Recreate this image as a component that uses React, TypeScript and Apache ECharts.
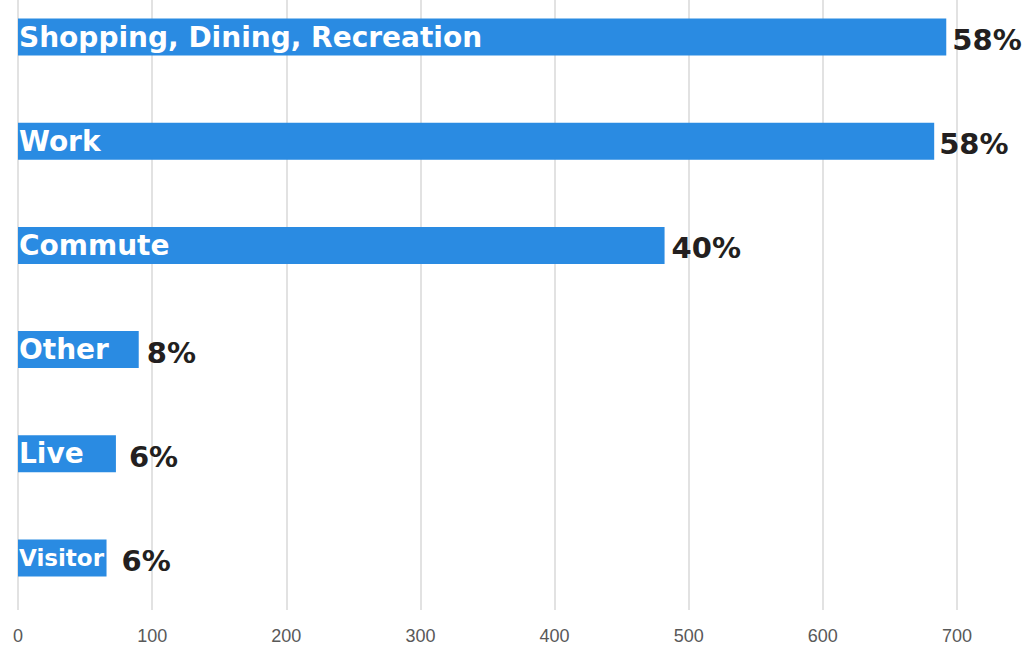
import React, { useEffect, useRef } from "react";
import * as echarts from "echarts";

const categories = ["Shopping, Dining, Recreation", "Work", "Commute", "Other", "Live", "Visitor"];
const counts = [692, 683, 482, 90, 73, 66];
const percents = ["58%", "58%", "40%", "8%", "6%", "6%"];
const xTicks = [0, 100, 200, 300, 400, 500, 600, 700];

// label styling tweaks (not data)
const pctShift = [1, 0, 2, 3, 8, 10];
const nameFont = [28, 28, 28, 28, 28, 23];

export default function App() {
  const ref = useRef<HTMLDivElement>(null);
  useEffect(() => {
    document.body.style.margin = "0";
    const chart = echarts.init(ref.current!, undefined, { renderer: "svg" });
    chart.setOption({
      animation: false,
      backgroundColor: "#ffffff",
      grid: { left: 18, right: 65, top: 0, bottom: 37, containLabel: false },
      xAxis: {
        type: "value",
        min: xTicks[0],
        max: xTicks[xTicks.length - 1],
        interval: 100,
        axisLine: { show: false },
        axisTick: { show: false },
        splitLine: { show: true, lineStyle: { color: "#d9d9d9", width: 1.5 } },
        axisLabel: { color: "#595959", fontSize: 18, fontFamily: "Liberation Sans Narrow, Liberation Sans, sans-serif", margin: 17 },
      },
      yAxis: {
        type: "category",
        data: categories,
        inverse: true,
        axisLine: { show: false },
        axisTick: { show: false },
        axisLabel: { show: false },
        splitLine: { show: false },
      },
      series: [
        {
          type: "bar",
          data: counts.map((v, i) => ({
            value: v,
            label: { fontSize: nameFont[i] },
          })),
          barWidth: 37,
          itemStyle: { color: "#2a8be2" },
          label: {
            show: true,
            position: "insideLeft",
            distance: 1,
            color: "#ffffff",
            fontWeight: "bold",
            fontSize: 28,
            fontFamily: "DejaVu Sans, sans-serif",
            formatter: (p: any) => categories[p.dataIndex],
          },
        },
        {
          type: "bar",
          data: counts.map((v, i) => ({
            value: v,
            label: { offset: [pctShift[i], 3] },
          })),
          barWidth: 37,
          barGap: "-100%",
          itemStyle: { color: "rgba(0,0,0,0)" },
          silent: true,
          label: {
            show: true,
            position: "right",
            distance: 5,
            color: "#231f20",
            fontWeight: 600,
            fontSize: 29,
            fontFamily: "DejaVu Sans, sans-serif",
            formatter: (p: any) => percents[p.dataIndex],
          },
        },
      ],
    });
    return () => chart.dispose();
  }, []);
  return (
    <div
      ref={ref}
      style={{ position: "absolute", left: 0, top: -15, width: 1022, height: 662 }}
    />
  );
}
